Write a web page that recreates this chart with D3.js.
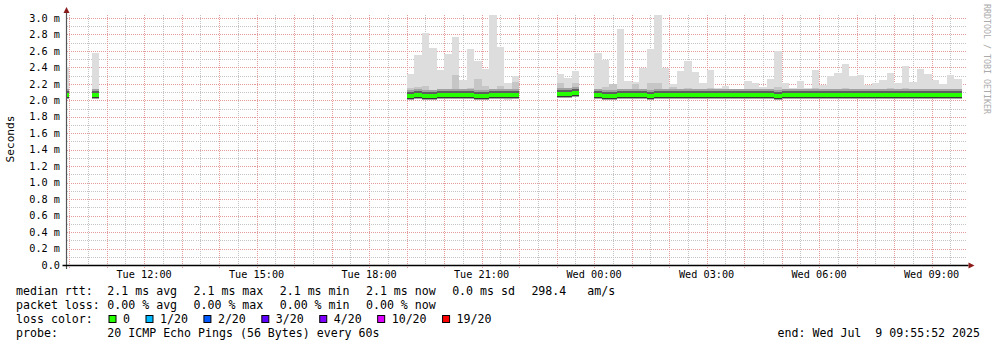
<!DOCTYPE html>
<html>
<head>
<meta charset="utf-8">
<script src="https://cdn.jsdelivr.net/npm/d3@7/dist/d3.min.js"></script>
<style>
body { margin: 0; background: #fff; }
svg { display: block; }
text { font-family: "DejaVu Sans Mono", monospace; fill: #000; }
</style>
</head>
<body>
<svg id="chart" width="997" height="347"></svg>
<script>
// ---- data ----
const endTime = '2025-07-09 09:55:52';
const binMinutes = 12;

// one entry per block of consecutive 12 minute bins
const blockStarts = ['2025-07-08 09:48', '2025-07-08 10:36', '2025-07-08 19:00', '2025-07-08 23:00', '2025-07-09 00:00'];

const rttMax = [
    [2.40],
    [2.57],
    [2.32, 2.55, 2.82, 2.64, 2.37, 2.56, 2.77, 2.25, 2.62, 2.48, 2.38, 3.04, 2.65, 2.21, 2.29],
    [2.32, 2.27, 2.36],
    [2.575, 2.49, 2.20, 2.87, 2.235, 2.22, 2.39, 2.62, 3.04, 2.39, 2.20, 2.36, 2.48, 2.34, 2.21, 2.37, 2.15,
     2.17, 2.14, 2.14, 2.24, 2.21, 2.16, 2.26, 2.60, 2.21, 2.15, 2.235, 2.15, 2.37, 2.19, 2.29, 2.33, 2.44,
     2.30, 2.31, 2.19, 2.21, 2.25, 2.33, 2.21, 2.42, 2.22, 2.38, 2.32, 2.25, 2.20, 2.31, 2.26]
];
const rttHigh = [
    [2.12],
    [2.13],
    [2.15, 2.16, 2.17, 2.13, 2.14, 2.14, 2.31, 2.14, 2.15, 2.26, 2.17, 2.14, 2.17, 2.13, 2.22],
    [2.21, 2.15, 2.21],
    [2.14, 2.16, 2.20, 2.13, 2.13, 2.20, 2.13, 2.21, 2.21, 2.13, 2.16, 2.14, 2.15, 2.14, 2.13, 2.15, 2.13,
     2.14, 2.13, 2.13, 2.14, 2.13, 2.12, 2.14, 2.16, 2.13, 2.12, 2.14, 2.13, 2.15, 2.13, 2.14, 2.14, 2.15,
     2.14, 2.13, 2.13, 2.14, 2.13, 2.15, 2.13, 2.15, 2.14, 2.14, 2.13, 2.13, 2.14, 2.14, 2.13]
];
const rttMedian = [
    [2.065],
    [2.07],
    [2.055, 2.065, 2.05, 2.05, 2.065, 2.065, 2.065, 2.065, 2.065, 2.055, 2.055, 2.06, 2.065, 2.06, 2.065],
    [2.075, 2.08, 2.085],
    [2.068, 2.055, 2.055, 2.06, 2.065, 2.068, 2.062, 2.05, 2.06, 2.065, 2.06, 2.062, 2.06, 2.065, 2.062, 2.06, 2.065,
     2.062, 2.06, 2.062, 2.06, 2.062, 2.065, 2.06, 2.058, 2.062, 2.065, 2.062, 2.06, 2.065, 2.062, 2.062, 2.06, 2.062,
     2.065, 2.062, 2.06, 2.062, 2.065, 2.06, 2.062, 2.065, 2.062, 2.062, 2.065, 2.062, 2.06, 2.062, 2.062]
];
const rttMin = [
    [2.03],
    [2.02],
    [2.02, 2.01, 2.00, 2.00, 2.02, 2.01, 2.02, 2.01, 2.03, 2.02, 2.01, 2.02, 2.01, 2.00, 2.02],
    [2.03, 2.03, 2.04],
    [2.02, 2.01, 2.00, 2.02, 2.02, 2.01, 2.02, 2.01, 2.01, 2.02, 2.02, 2.01, 2.02, 2.02, 2.01, 2.02, 2.02,
     2.02, 2.01, 2.02, 2.02, 2.01, 2.02, 2.02, 2.01, 2.02, 2.02, 2.02, 2.01, 2.02, 2.02, 2.02, 2.01, 2.02,
     2.02, 2.02, 2.01, 2.02, 2.02, 2.02, 2.01, 2.02, 2.02, 2.01, 2.02, 2.02, 2.02, 2.01, 2.02]
];

const lossLabels = ['0', '1/20', '2/20', '3/20', '4/20', '10/20', '19/20'];
const lossColors = ['#26ff00', '#00b8ff', '#0059ff', '#5e00ff', '#7e00ff', '#dd00ff', '#ff0000'];

const rttItems = ['2.1 ms avg', '2.1 ms max', '2.1 ms min', '2.1 ms now', '0.0 ms sd', '298.4   am/s'];
const lossItems = ['0.00 % avg', '0.00 % max', '0.00 % min', '0.00 % now'];
const rowLabels = ['median rtt:', 'packet loss:', 'loss color:', 'probe:'];
const probeText = '20 ICMP Echo Pings (56 Bytes) every 60s';
const endLabel = 'end: Wed Jul  9 09:55:52 2025';

// ---- layout ----
const plot = { left: 66.5, right: 966.5, top: 15, bottom: 265 };
const parse = d3.utcParse('%Y-%m-%d %H:%M');
const end = d3.utcParse('%Y-%m-%d %H:%M:%S')(endTime);
const start = d3.utcHour.offset(end, -24);

const svg = d3.select('#chart');

const x = d3.scaleUtc()
    .domain([start, end])
    .range([plot.left, plot.right]);

const y = d3.scaleLinear()
    .domain([0, 3.036])
    .range([plot.bottom, plot.top]);

// flatten the blocks into bins
const bins = [];
blockStarts.forEach((s, b) => {
    const t0 = parse(s);
    rttMax[b].forEach((v, i) => {
        const t = d3.utcMinute.offset(t0, i * binMinutes);
        bins.push({
            t0: t,
            t1: d3.utcMinute.offset(t, binMinutes),
            max: v,
            hi: rttHigh[b][i],
            med: rttMedian[b][i],
            min: rttMin[b][i]
        });
    });
});

svg.append('defs').append('clipPath').attr('id', 'plotclip')
    .append('rect')
    .attr('x', plot.left).attr('y', plot.top - 5)
    .attr('width', plot.right - plot.left).attr('height', plot.bottom - plot.top + 5);

// ---- grid ----
const grid = svg.append('g').attr('stroke-dasharray', '1,1').attr('shape-rendering', 'crispEdges');
const hourTicks = x.ticks(d3.utcHour.every(1));
const halfTicks = x.ticks(d3.utcMinute.every(30)).filter(t => t.getUTCMinutes() !== 0);
const minorY = y.ticks(30).filter(v => Math.round(v * 10) % 2 === 1);
const majorY = y.ticks(15);

grid.selectAll('.vminor').data(halfTicks).join('line')
    .attr('x1', d => Math.round(x(d)) + 0.5).attr('x2', d => Math.round(x(d)) + 0.5)
    .attr('y1', plot.top).attr('y2', plot.bottom)
    .attr('stroke', '#c4c4c4');
grid.selectAll('.hminor').data(minorY).join('line')
    .attr('x1', plot.left).attr('x2', plot.right)
    .attr('y1', d => Math.round(y(d)) + 0.5).attr('y2', d => Math.round(y(d)) + 0.5)
    .attr('stroke', '#c4c4c4');
grid.selectAll('.vmajor').data(hourTicks).join('line')
    .attr('x1', d => Math.round(x(d)) + 0.5).attr('x2', d => Math.round(x(d)) + 0.5)
    .attr('y1', plot.top).attr('y2', plot.bottom + 3)
    .attr('stroke', '#e49a9a');
grid.selectAll('.hmajor').data(majorY).join('line')
    .attr('x1', plot.left).attr('x2', plot.right)
    .attr('y1', d => Math.round(y(d)) + 0.5).attr('y2', d => Math.round(y(d)) + 0.5)
    .attr('stroke', '#e49a9a');

// ---- smoke ----
const data = svg.append('g').attr('clip-path', 'url(#plotclip)').attr('shape-rendering', 'crispEdges');
const bx = d => Math.round(x(d.t0));
const bw = d => Math.round(x(d.t1)) - Math.round(x(d.t0));

function band(color, top, bottom) {
    data.append('g').selectAll('rect')
        .data(bins)
        .join('rect')
        .attr('x', bx)
        .attr('width', bw)
        .attr('y', d => Math.round(top(d)))
        .attr('height', d => Math.max(0, Math.round(bottom(d)) - Math.round(top(d))))
        .attr('fill', color);
}

band('#dddddd', d => y(d.max), d => y(d.min));
band('#c6c6c6', d => y(d.hi), d => y(d.med) + 4);
band('#a2a2a2', d => y(d.med) - 6, d => y(d.med) + 4);
band('#5e5e5e', d => y(d.med) - 4, d => y(d.med) + 3);
band(lossColors[0], d => y(d.med) - 2, d => y(d.med) + 2);
band('#383838', d => y(d.med) + 2, d => y(d.med) + 3);

// ---- axes ----
svg.append('line')
    .attr('x1', plot.left).attr('x2', plot.left)
    .attr('y1', plot.bottom + 4).attr('y2', plot.top - 3)
    .attr('stroke', '#555').attr('stroke-width', 1.2);
svg.append('path')
    .attr('d', `M${plot.left - 3},${plot.top - 2}L${plot.left},${plot.top - 8}L${plot.left + 3},${plot.top - 2}Z`)
    .attr('fill', '#8b1a1a');
svg.append('line')
    .attr('x1', plot.left - 4).attr('x2', plot.right + 2)
    .attr('y1', plot.bottom + 0.5).attr('y2', plot.bottom + 0.5)
    .attr('stroke', '#000').attr('stroke-width', 1.4);
svg.append('path')
    .attr('d', `M${plot.right + 2},${plot.bottom - 2.5}L${plot.right + 8},${plot.bottom + 0.5}L${plot.right + 2},${plot.bottom + 3.5}Z`)
    .attr('fill', '#8b1a1a');

// y tick labels
svg.append('g').selectAll('text')
    .data(majorY)
    .join('text')
    .attr('x', 60)
    .attr('y', d => y(d))
    .attr('dy', '0.36em')
    .attr('text-anchor', 'end')
    .attr('font-size', 10.2)
    .text(d => d === 0 ? '0.0' : d3.format('.1f')(d) + ' m');

// x tick labels
const fmt = d3.utcFormat('%a %H:%M');
svg.append('g').selectAll('text')
    .data(x.ticks(d3.utcHour.every(3)))
    .join('text')
    .attr('x', d => x(d))
    .attr('y', 278)
    .attr('text-anchor', 'middle')
    .attr('font-size', 10.2)
    .text(fmt);

// axis title
svg.append('text')
    .attr('transform', 'translate(14,139) rotate(-90)')
    .attr('text-anchor', 'middle')
    .attr('font-size', 11.2)
    .text('Seconds');

// watermark
svg.append('text')
    .attr('transform', 'translate(984,4) rotate(90)')
    .attr('font-size', 8.3)
    .style('fill', '#aaaaaa')
    .text('RRDTOOL / TOBI OETIKER');

// ---- legend ----
const legend = svg.append('g').attr('font-size', 11.6).style('white-space', 'pre');
const rowY = [295, 309, 323, 337];

legend.selectAll('text.row')
    .data(rowLabels)
    .join('text')
    .attr('class', 'row')
    .attr('x', 16)
    .attr('y', (d, i) => rowY[i])
    .text(d => d);

function itemRow(items, yPos) {
    let ix = 107.3;
    items.forEach(s => {
        const t = legend.append('text')
            .attr('x', ix)
            .attr('y', yPos)
            .attr('xml:space', 'preserve')
            .text(s);
        ix = ix + t.node().getComputedTextLength() + 16.4;
    });
}
itemRow(rttItems, rowY[0]);
itemRow(lossItems, rowY[1]);

let lx = 108.5;
lossLabels.forEach((lab, i) => {
    legend.append('rect')
        .attr('x', lx + 0.5).attr('y', 315.5)
        .attr('width', 7).attr('height', 7)
        .attr('fill', lossColors[i])
        .attr('stroke', '#000').attr('stroke-width', 1);
    const t = legend.append('text')
        .attr('x', lx + 14.5)
        .attr('y', rowY[2])
        .text(lab);
    lx = lx + 14.5 + t.node().getComputedTextLength() + 15.5;
});

legend.append('text')
    .attr('x', 107.3)
    .attr('y', rowY[3])
    .text(probeText);

legend.append('text')
    .attr('x', 980)
    .attr('y', rowY[3])
    .attr('text-anchor', 'end')
    .attr('xml:space', 'preserve')
    .text(endLabel);
</script>
</body>
</html>
